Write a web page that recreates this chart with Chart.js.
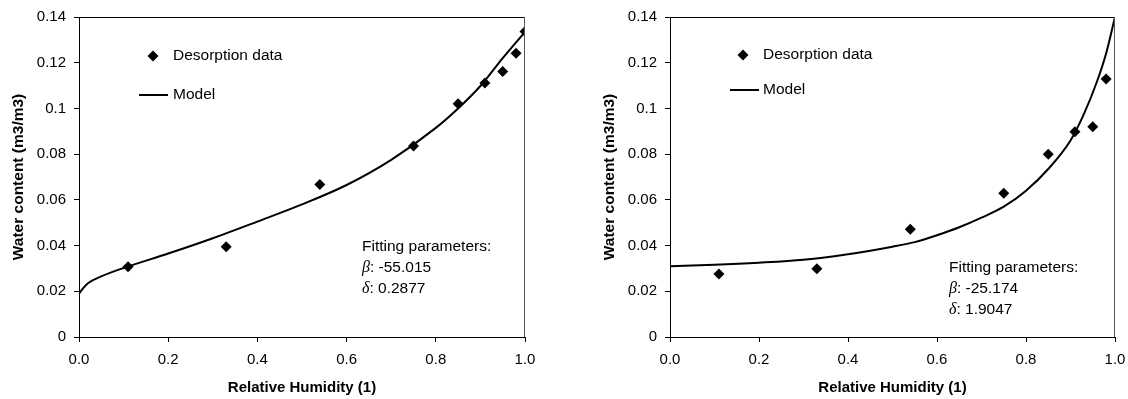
<!DOCTYPE html>
<html>
<head>
<meta charset="utf-8">
<script src="https://cdn.jsdelivr.net/npm/chart.js@4.4.1/dist/chart.umd.min.js"></script>
<style>
  body { margin: 0; background: #fff; }
  .wrap { position: absolute; top: 0; width: 564px; height: 399px; }
</style>
</head>
<body>
<div class="wrap" style="left:0"><canvas id="left" width="564" height="399"></canvas></div>
<div class="wrap" style="left:564px"><canvas id="right" width="564" height="399"></canvas></div>
<script>
// measured desorption points
const leftRh = [0.11, 0.33, 0.54, 0.75, 0.85, 0.91, 0.95, 0.98, 1.0];
const leftWater = [0.0307, 0.0395, 0.0667, 0.0836, 0.1021, 0.1111, 0.1162, 0.1241, 0.1337];
const rightRh = [0.11, 0.33, 0.54, 0.75, 0.85, 0.91, 0.95, 0.98];
const rightWater = [0.0276, 0.0299, 0.0471, 0.0629, 0.0800, 0.0898, 0.0920, 0.1129];

// model curves
const leftModelRh = [0, 0.01, 0.02, 0.05, 0.1, 0.2, 0.3, 0.4, 0.5, 0.6, 0.7, 0.8, 0.85, 0.9, 0.95, 1.0];
const leftModelWater = [0.019, 0.0215, 0.0235, 0.0265, 0.0302, 0.0365, 0.0432, 0.0505, 0.0580, 0.0665, 0.0775, 0.0915, 0.1000, 0.1098, 0.1220, 0.1335];
const rightModelRh = [0, 0.1, 0.2, 0.3, 0.4, 0.5, 0.55, 0.6, 0.65, 0.7, 0.75, 0.8, 0.85, 0.9, 0.93, 0.96, 0.98, 1.0];
const rightModelWater = [0.031, 0.0316, 0.0325, 0.0338, 0.0362, 0.0395, 0.0415, 0.0445, 0.0480, 0.0522, 0.0570, 0.0640, 0.0735, 0.0860, 0.0975, 0.1120, 0.1240, 0.1400];

const xTicks = [0, 0.2, 0.4, 0.6, 0.8, 1.0];
const yTicks = [0, 0.02, 0.04, 0.06, 0.08, 0.1, 0.12, 0.14];
const legendLabels = ["Desorption data", "Model"];
const leftParams = ["Fitting parameters:", "-55.015", "0.2877"];
const rightParams = ["Fitting parameters:", "-25.174", "1.9047"];

Chart.defaults.color = "#000";
Chart.defaults.font.family = "'Liberation Sans', Arial, sans-serif";

const SANS = "'Liberation Sans', Arial, sans-serif";

const toXY = (xs, ys) => xs.map((x, i) => ({ x, y: ys[i] }));

// frame on top and right of the plot
const framePlugin = {
  id: "frame",
  afterDraw(chart) {
    const { ctx, chartArea: a } = chart;
    ctx.save();
    ctx.lineWidth = 1;
    ctx.strokeStyle = "#000";
    ctx.beginPath();
    ctx.moveTo(a.left, a.top + 0.5);
    ctx.lineTo(a.right, a.top + 0.5);
    ctx.stroke();
    ctx.strokeStyle = "#555";
    ctx.beginPath();
    ctx.moveTo(a.right - 0.5, a.top);
    ctx.lineTo(a.right - 0.5, a.bottom);
    ctx.stroke();
    ctx.restore();
  },
};

// in-plot legend and fitting parameter note
const notesPlugin = {
  id: "notes",
  afterDraw(chart, args, opts) {
    const { ctx, chartArea: a } = chart;
    ctx.save();
    ctx.fillStyle = "#000";
    ctx.strokeStyle = "#000";
    ctx.textBaseline = "middle";
    ctx.font = "15.5px " + SANS;

    // diamond + label
    const dx = a.left + opts.legendX;
    const dy = opts.dataY;
    ctx.beginPath();
    ctx.moveTo(dx - 5.5, dy);
    ctx.lineTo(dx, dy - 5.5);
    ctx.lineTo(dx + 5.5, dy);
    ctx.lineTo(dx, dy + 5.5);
    ctx.closePath();
    ctx.fill();
    ctx.fillText(legendLabels[0], dx + 20, dy);

    // line + label
    const my = opts.modelY;
    ctx.lineWidth = 2;
    ctx.beginPath();
    ctx.moveTo(a.left + 60, my);
    ctx.lineTo(a.left + 89, my);
    ctx.stroke();
    ctx.fillText(legendLabels[1], dx + 20, my);

    // fitting parameters
    const p = opts.params;
    const tx = opts.textX;
    let ty = opts.textY;
    ctx.fillText(p[0], tx, ty);
    const greek = ["\u03B2", "\u03B4"];
    for (let i = 0; i < 2; i++) {
      ty += 21;
      ctx.font = "italic 16px 'Liberation Serif', 'Times New Roman', serif";
      ctx.fillText(greek[i], tx, ty);
      const w = ctx.measureText(greek[i]).width;
      ctx.font = "15.5px " + SANS;
      ctx.fillText(": " + p[i + 1], tx + w, ty);
    }
    ctx.restore();
  },
};

function makeChart(id, pts, model, yAxisWidth, rightPad, titlePad, notes) {
  return new Chart(document.getElementById(id), {
    type: "scatter",
    data: {
      datasets: [
        {
          label: legendLabels[0],
          data: pts,
          pointStyle: "rectRot",
          pointRadius: 5.5,
          backgroundColor: "#000",
          borderColor: "#000",
          borderWidth: 0,
          order: 0,
        },
        {
          label: legendLabels[1],
          data: model,
          showLine: true,
          pointRadius: 0,
          borderColor: "#000",
          borderWidth: 2,
          cubicInterpolationMode: "monotone",
          order: 1,
        },
      ],
    },
    options: {
      responsive: false,
      animation: false,
      events: [],
      layout: { padding: { top: 17, right: rightPad, left: 0, bottom: 0 } },
      plugins: {
        legend: { display: false },
        tooltip: { enabled: false },
        notes,
      },
      scales: {
        x: {
          type: "linear",
          min: 0,
          max: 1,
          afterBuildTicks: (s) => { s.ticks = xTicks.map((v) => ({ value: v })); },
          afterFit: (s) => { s.height = 62; s.paddingLeft = 0; s.paddingRight = 0; },
          ticks: {
            font: { size: 15 },
            padding: 9,
            maxRotation: 0,
            callback: (v) => Number(v).toFixed(1),
          },
          grid: { drawOnChartArea: false, tickLength: 5, color: "#000" },
          border: { color: "#000" },
          title: {
            display: true,
            text: "Relative Humidity (1)",
            font: { size: 15, weight: "bold" },
            padding: { top: 0, bottom: 2 },
          },
        },
        y: {
          min: 0,
          max: 0.14,
          afterBuildTicks: (s) => { s.ticks = yTicks.map((v) => ({ value: v })); },
          afterFit: (s) => { s.width = yAxisWidth; s.paddingTop = 0; s.paddingBottom = 0; },
          ticks: {
            font: { size: 15 },
            padding: 8,
            callback: (v) => String(Number(Number(v).toFixed(2))),
          },
          grid: { drawOnChartArea: false, tickLength: 5, color: "#000" },
          border: { color: "#000" },
          title: {
            display: true,
            text: "Water content (m3/m3)",
            font: { size: 15.5, weight: "bold" },
            padding: { top: titlePad, bottom: 0 },
          },
        },
      },
    },
    plugins: [framePlugin, notesPlugin],
  });
}

makeChart("left", toXY(leftRh, leftWater), toXY(leftModelRh, leftModelWater), 79, 39, 9,
  { legendX: 74, dataY: 56, modelY: 95, textX: 362, textY: 247, params: leftParams });
makeChart("right", toXY(rightRh, rightWater), toXY(rightModelRh, rightModelWater), 106, 13, 36,
  { legendX: 73, dataY: 55, modelY: 90, textX: 385, textY: 268, params: rightParams });
</script>
</body>
</html>
